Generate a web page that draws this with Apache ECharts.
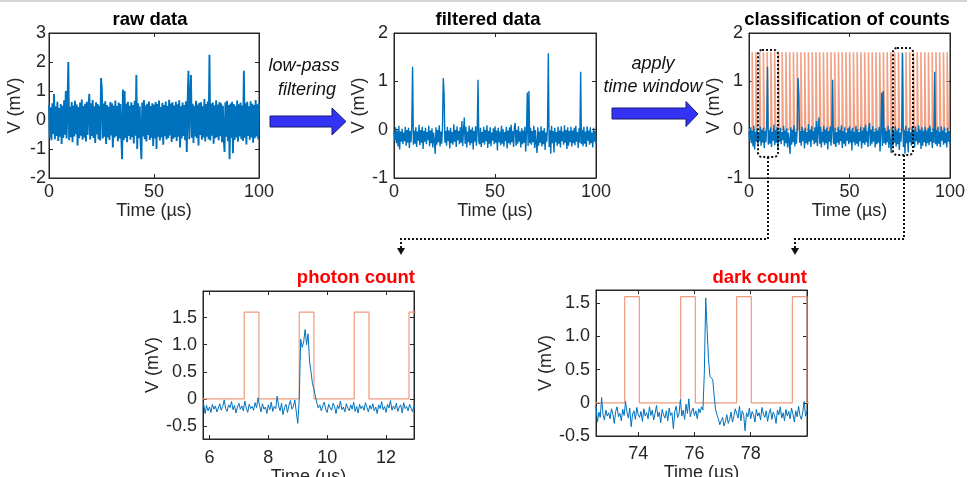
<!DOCTYPE html>
<html><head><meta charset="utf-8">
<script src="https://cdn.jsdelivr.net/npm/echarts@6/dist/echarts.min.js"></script>
<style>html,body{margin:0;padding:0;background:#fff}#c{width:979px;height:477px}</style>
</head><body><div id="c"></div>
<script>
// ---------- data ----------
const rawStart = 0, rawStep = 0.4;
const rawValues = [
0.52,-0.61,0.44,-0.70,0.58,-0.48,0.90,-0.66,0.47,-0.55,
0.63,-0.72,0.41,-0.58,0.55,-0.83,0.49,-0.62,0.68,-0.51,
1.00,-0.64,0.57,2.00,-0.70,0.46,-0.59,0.62,-0.77,0.50,
-0.57,0.66,-0.49,0.53,-0.88,0.45,-0.63,0.60,-0.54,0.71,
-0.68,0.48,-0.60,0.56,-0.74,0.63,-0.52,0.44,0.90,-0.67,
0.58,-0.55,0.69,-0.62,0.47,-0.79,0.61,-0.50,0.55,-0.66,
0.49,-0.71,1.45,1.00,-0.64,0.57,-0.58,0.65,-0.83,0.52,
-0.60,0.46,-0.69,0.62,-0.53,0.58,-0.95,0.50,-0.61,0.67,
-0.56,0.48,-0.73,0.60,-0.64,0.55,-0.50,-1.35,1.05,-0.70,
1.00,-0.62,0.57,-0.77,0.63,-0.55,0.49,-0.68,0.61,-0.59,
0.52,-0.81,0.66,-0.54,1.55,-1.00,0.58,-0.63,0.47,-0.71,
-1.35,0.60,-0.57,0.69,-0.66,0.51,-0.74,0.56,-0.52,0.64,
-0.69,0.48,-0.61,0.58,-0.90,0.53,-0.64,0.62,-1.00,0.55,
-0.58,0.67,-0.71,0.45,-0.60,0.59,-0.85,0.52,-0.56,0.64,
-0.67,0.49,-0.62,0.70,-0.53,0.57,-0.76,0.61,-0.65,0.50,
-0.59,0.63,-0.72,0.54,-0.58,0.68,-0.95,0.47,-0.64,0.60,
-0.55,0.52,-0.70,0.65,-1.10,0.58,1.70,-0.66,0.62,1.55,
-0.61,0.56,-0.79,0.49,-0.57,0.66,-0.63,0.53,-0.88,0.59,
-0.52,0.61,-0.68,0.47,-0.60,0.72,-0.74,0.55,-0.58,0.64,
-0.66,2.25,-0.71,0.57,-0.54,0.60,-0.82,0.51,-0.63,0.68,
-0.59,0.53,-0.70,0.62,-0.56,0.58,-0.77,0.49,-0.65,-1.10,
0.61,-0.58,0.66,-0.73,0.52,-1.35,0.57,-0.62,0.63,-1.15,
0.55,-0.69,0.48,-0.60,0.67,-0.75,0.54,-0.57,0.60,-0.66,
0.50,-0.72,1.70,-0.61,0.58,-0.84,0.63,-0.55,0.47,-0.68,
0.65,-0.60,0.56,-0.78,0.52,-0.63,0.69,-0.57,0.54,-0.66,
0.58];

const filtStart = 0, filtStep = 0.4;
const filteredValues = [
-0.05,-0.22,0.05,-0.28,-0.02,-0.35,0.08,-0.41,-0.04,-0.25,
0.02,-0.30,-0.06,-0.24,0.06,-0.33,-0.01,-0.27,0.04,-0.38,
-0.03,-0.26,0.07,1.30,-0.31,-0.02,-0.29,0.05,-0.36,-0.04,
-0.23,0.10,-0.32,-0.01,-0.27,0.06,-0.40,-0.03,-0.25,0.04,
-0.30,-0.05,-0.22,0.08,-0.34,-0.02,-0.28,0.03,-0.37,-0.06,
-0.24,-0.50,0.05,-0.31,-0.01,-0.26,0.09,-0.35,-0.04,-0.29,
0.03,1.07,0.73,-0.27,-0.03,-0.33,0.06,-0.24,-0.02,-0.39,
0.04,-0.28,-0.05,-0.31,0.11,-0.25,-0.01,-0.36,0.07,-0.22,
-0.03,-0.30,0.05,-0.27,0.18,-0.34,-0.02,0.25,-0.29,0.06,
-0.37,-0.04,-0.26,0.08,-0.32,0.00,-0.28,0.05,-0.41,-0.03,
-0.25,0.07,-0.33,-0.02,1.03,-0.25,-0.30,0.04,-0.36,-0.05,
-0.27,0.06,-0.31,-0.01,-0.24,0.09,-0.38,-0.03,-0.29,0.05,
-0.34,-0.06,-0.23,0.03,-0.30,0.07,-0.27,-0.02,-0.43,0.04,
-0.26,-0.04,-0.32,0.08,-0.29,0.01,-0.35,-0.05,-0.24,0.06,
-0.39,-0.02,-0.28,0.05,-0.31,0.10,-0.26,-0.03,-0.36,0.04,
0.14,-0.33,-0.01,-0.29,0.07,-0.25,-0.04,-0.37,0.03,-0.30,
-0.02,-0.27,0.06,-0.45,-0.05,0.77,-0.34,0.80,-0.28,0.04,
-0.31,-0.03,-0.26,0.08,-0.38,-0.01,-0.29,-0.48,0.05,-0.33,
-0.04,-0.27,0.07,-0.35,-0.02,-0.30,0.03,-0.42,-0.06,-0.25,
0.05,1.58,-0.36,-0.01,-0.50,0.08,-0.28,-0.03,-0.47,0.04,
-0.26,-0.05,-0.33,0.06,-0.29,-0.02,-0.37,0.07,-0.24,-0.04,
-0.31,0.09,-0.27,-0.01,-0.40,0.05,-0.33,-0.03,-0.26,0.06,
-0.35,-0.02,-0.28,0.04,-0.32,0.08,-0.25,-0.05,-0.38,0.03,
-0.27,1.20,-0.30,-0.01,-0.34,0.06,-0.29,-0.04,-0.36,0.07,
-0.23,-0.02,-0.31,0.05,-0.28,-0.06,-0.37,0.04,-0.25,-0.03,
-0.30];

const windowStarts = [1.58,3.45,5.31,7.18,9.04,10.91,12.78,14.64,16.51,18.37,
20.24,22.11,23.97,25.84,27.70,29.57,31.44,33.30,35.17,37.03,38.90,40.77,42.63,
44.50,46.36,48.23,50.10,51.96,53.83,55.69,57.56,59.43,61.29,63.16,65.02,66.89,
68.76,70.62,72.49,74.35,76.22,78.09,79.95,81.82,83.68,85.55,87.42,89.28,91.15,
93.01,94.88,96.75,98.61];
const windowWidth = 0.5, windowHeight = 1.6;

const photonStart = 5.8, photonStep = 0.05;
const photonValues = [
-0.08,-0.27,-0.12,-0.22,-0.15,-0.25,-0.10,-0.19,-0.13,-0.24,
-0.17,-0.09,-0.21,-0.14,-0.02,-0.18,-0.23,-0.11,-0.16,-0.05,
-0.20,-0.12,-0.26,-0.15,-0.08,-0.19,-0.13,-0.22,-0.04,-0.17,
-0.25,-0.10,-0.18,-0.14,-0.21,-0.07,-0.16,0.02,-0.12,-0.24,
-0.09,-0.19,-0.15,-0.27,-0.11,-0.20,-0.06,-0.23,-0.14,-0.18,
0.05,-0.13,-0.22,-0.08,-0.29,-0.16,-0.10,-0.25,-0.12,-0.03,
-0.19,-0.14,-0.02,-0.24,-0.45,0.00,1.10,0.95,1.05,1.28,
1.00,1.20,0.70,0.50,0.28,0.18,0.05,-0.08,-0.17,-0.11,
-0.22,-0.13,-0.06,-0.19,-0.25,-0.10,-0.16,-0.21,-0.08,-0.14,
-0.27,-0.12,-0.18,-0.04,-0.20,-0.15,-0.24,-0.09,-0.17,-0.22,
-0.11,-0.19,-0.06,-0.23,-0.14,-0.26,-0.10,-0.18,-0.13,-0.21,
-0.07,-0.16,-0.24,-0.12,-0.19,-0.09,-0.22,-0.15,-0.27,-0.11,
-0.18,-0.05,-0.20,-0.14,-0.25,-0.10,-0.17,-0.03,-0.21,-0.13,
-0.19,-0.08,-0.23,-0.15,-0.11,-0.26,-0.07,-0.18,-0.14,-0.22,
-0.10,-0.17,-0.24,-0.12,-0.19];
const photonWindowStarts = [7.18, 9.05, 10.92, 12.78];
const photonWindowWidth = 0.5;

const darkStart = 72.5, darkStep = 0.05;
const darkValues = [
-0.05,-0.29,-0.14,-0.22,0.08,-0.18,-0.26,-0.11,-0.20,-0.15,
-0.24,-0.09,-0.17,-0.31,-0.13,-0.06,-0.21,-0.16,-0.27,-0.10,
-0.19,0.02,-0.14,-0.23,-0.08,-0.36,-0.17,-0.12,-0.25,-0.07,
-0.18,-0.22,-0.13,-0.28,-0.09,-0.20,-0.15,-0.24,-0.06,-0.19,
-0.11,-0.26,-0.16,-0.04,-0.21,-0.14,-0.30,-0.10,-0.18,-0.23,
-0.12,-0.27,-0.08,-0.19,-0.15,-0.39,-0.13,-0.05,-0.22,-0.17,
0.05,-0.20,-0.11,-0.25,-0.02,-0.16,0.06,-0.21,-0.13,-0.08,
-0.19,-0.12,-0.24,-0.09,-0.15,-0.06,-0.11,0.45,1.58,1.10,
0.65,0.40,0.42,0.35,0.10,-0.10,-0.18,-0.24,-0.33,-0.27,
-0.22,-0.35,-0.28,-0.18,-0.31,-0.25,-0.14,-0.29,-0.20,-0.09,
-0.16,-0.23,-0.05,-0.27,-0.12,-0.19,-0.42,-0.15,-0.21,-0.08,
-0.24,-0.13,-0.18,-0.29,-0.10,-0.20,-0.15,-0.26,-0.07,-0.17,
-0.22,-0.12,-0.28,-0.16,-0.09,-0.25,-0.14,-0.19,-0.31,-0.11,
-0.18,-0.06,-0.23,-0.15,-0.27,-0.10,-0.20,-0.13,-0.24,-0.08,
-0.17,-0.29,-0.12,-0.21,-0.05,-0.19,-0.25,-0.14,0.02,-0.20,
-0.12];
const darkWindowStarts = [73.52, 75.51, 77.50, 79.48];
const darkWindowWidth = 0.52;

const topXTicks = [0, 50, 100];
const rawYTicks = [-2, -1, 0, 1, 2, 3];
const filtYTicks = [-1, 0, 1, 2];
const zoomYTicks = [-0.5, 0, 0.5, 1, 1.5];
const zoomYLabels = ['-0.5', '0', '0.5', '1.0', '1.5'];
const photonXTicks = [6, 8, 10, 12];
const darkXTicks = [74, 76, 78];

// ---------- helpers ----------
const FONT = '"Liberation Sans", Arial, Helvetica, sans-serif';
const AX = '#262626';
const BLUE = '#0072BD';
const ORANGE = '#EE9B7D';

function toPairs(start, step, vals) {
  return vals.map((v, i) => [Math.round((start + i * step) * 1000) / 1000, v]);
}
function windowLine(starts, w, h, x0, x1) {
  const pts = [[x0, 0]];
  starts.forEach(s => { pts.push([s, 0], [s, h], [s + w, h], [s + w, 0]); });
  pts.push([x1, 0]);
  return pts;
}

const grids = [], xAxes = [], yAxes = [];
function panel(rect, xr, xt, yr, yt, yFmt, o) {
  const g = grids.length;
  grids.push(Object.assign({show: true, borderColor: AX, borderWidth: 1, backgroundColor: 'transparent',
    containLabel: false, outerBoundsMode: 'none'}, rect));
  const lbl = {fontSize: 18, color: AX, fontFamily: FONT};
  const baseX = {type: 'value', gridIndex: g, min: xr[0], max: xr[1], splitLine: {show: false},
    axisLine: {show: true, onZero: false, lineStyle: {color: AX, width: 1}},
    axisTick: {show: true, inside: true, length: 4, customValues: xt, lineStyle: {color: AX}}};
  xAxes.push(Object.assign({}, baseX, {position: 'bottom',
    axisLabel: Object.assign({customValues: xt, margin: o.xMargin}, lbl),
    name: 'Time (µs)', nameLocation: 'middle', nameGap: o.xNameGap, nameTextStyle: lbl}));
  xAxes.push(Object.assign({}, baseX, {position: 'top', axisLabel: {show: false}}));
  const baseY = {type: 'value', gridIndex: g, min: yr[0], max: yr[1], splitLine: {show: false},
    axisLine: {show: true, onZero: false, lineStyle: {color: AX, width: 1}},
    axisTick: {show: true, inside: true, length: 4, customValues: yt, lineStyle: {color: AX}}};
  yAxes.push(Object.assign({}, baseY, {position: 'left',
    axisLabel: Object.assign({customValues: yt, margin: o.yMargin, formatter: yFmt}, lbl),
    name: 'V (mV)', nameLocation: 'middle', nameGap: o.yNameGap, nameTextStyle: lbl}));
  yAxes.push(Object.assign({}, baseY, {position: 'right', axisLabel: {show: false}}));
  return 2 * g;
}
const plainFmt = v => String(v);
const zoomFmt = v => zoomYLabels[zoomYTicks.indexOf(v)] !== undefined ? zoomYLabels[zoomYTicks.indexOf(v)] : String(v);

const pRaw = panel({left: 49, top: 33, width: 210, height: 145}, [0, 100], topXTicks, [-2, 3], rawYTicks, plainFmt,
  {xMargin: 5, xNameGap: 22, yMargin: 3, yNameGap: 25});
const pFilt = panel({left: 394, top: 33, width: 202, height: 145}, [0, 100], topXTicks, [-1, 2], filtYTicks, plainFmt,
  {xMargin: 5, xNameGap: 22, yMargin: 6, yNameGap: 20});
const pCls = panel({left: 749, top: 33, width: 201, height: 145}, [0, 100], topXTicks, [-1, 2], filtYTicks, plainFmt,
  {xMargin: 5, xNameGap: 22, yMargin: 6, yNameGap: 20});
const pPh = panel({left: 203, top: 291, width: 211, height: 148}, [5.78, 12.95], photonXTicks, [-0.74, 1.99], zoomYTicks, zoomFmt,
  {xMargin: 10, xNameGap: 23, yMargin: 6, yNameGap: 41});
const pDk = panel({left: 596, top: 290, width: 211, height: 146}, [72.5, 80], darkXTicks, [-0.5, 1.7], zoomYTicks, zoomFmt,
  {xMargin: 9, xNameGap: 26, yMargin: 6, yNameGap: 40});

function lineSeries(ax, data, color, w, z) {
  return {type: 'line', xAxisIndex: ax, yAxisIndex: ax, data: data, symbol: 'none', showSymbol: false,
    silent: true, animation: false, clip: true, z: z,
    lineStyle: {color: color, width: w}};
}
const filteredPairs = toPairs(filtStart, filtStep, filteredValues);
const series = [
  lineSeries(pRaw, toPairs(rawStart, rawStep, rawValues), BLUE, 1.9, 2),
  lineSeries(pFilt, filteredPairs, BLUE, 1.4, 2),
  lineSeries(pCls, windowLine(windowStarts, windowWidth, windowHeight, 0, 100), '#F2A184', 1.6, 1),
  lineSeries(pCls, filteredPairs, BLUE, 1.4, 2),
  lineSeries(pPh, windowLine(photonWindowStarts, photonWindowWidth, windowHeight, 5.5, 13.5), ORANGE, 1.2, 1),
  lineSeries(pPh, toPairs(photonStart, photonStep, photonValues), BLUE, 1, 2),
  lineSeries(pDk, windowLine(darkWindowStarts, darkWindowWidth, windowHeight, 72, 80.5), ORANGE, 1.2, 1),
  lineSeries(pDk, toPairs(darkStart, darkStep, darkValues), BLUE, 1, 2)
];

function txt(x, y, s, opt) {
  return {type: 'text', x: x, y: y, z: 100, silent: true,
    style: Object.assign({text: s, fontSize: 18, fontFamily: FONT, fill: '#111',
      align: 'center', verticalAlign: 'middle', textAlign: 'center', textVerticalAlign: 'middle'}, opt || {})};
}
const dotted = {fill: 'none', stroke: '#111', lineWidth: 2, lineDash: [2, 2]};
const graphic = [
  {type: 'line', z: 100, silent: true, shape: {x1: 0, y1: 1, x2: 967, y2: 1}, style: {stroke: '#d4d4d4', lineWidth: 2}},
  txt(150, 20, 'raw data', {fontWeight: 'bold', fontSize: 18.5, fill: '#000'}),
  txt(488, 20, 'filtered data', {fontWeight: 'bold', fontSize: 18.5, fill: '#000'}),
  txt(847, 20, 'classification of counts', {fontWeight: 'bold', fontSize: 18.5, fill: '#000'}),
  txt(415, 278, 'photon count', {fontWeight: 'bold', fontSize: 18.5, fill: '#FF0000', align: 'right', textAlign: 'right'}),
  txt(807, 278, 'dark count', {fontWeight: 'bold', fontSize: 18.5, fill: '#FF0000', align: 'right', textAlign: 'right'}),
  txt(304, 66, 'low-pass', {fontStyle: 'italic'}),
  txt(307, 90, 'filtering', {fontStyle: 'italic'}),
  txt(653, 64, 'apply', {fontStyle: 'italic'}),
  txt(653, 87, 'time window', {fontStyle: 'italic'}),
  {type: 'polygon', z: 100, silent: true,
    shape: {points: [[270, 116], [332, 116], [332, 108], [346, 121.5], [332, 135], [332, 127], [270, 127]]},
    style: {fill: '#3333F5', stroke: '#1b1b70', lineWidth: 1}},
  {type: 'polygon', z: 100, silent: true,
    shape: {points: [[612, 108], [686, 108], [686, 101.5], [698, 114], [686, 126.5], [686, 119], [612, 119]]},
    style: {fill: '#3333F5', stroke: '#1b1b70', lineWidth: 1}},
  {type: 'rect', z: 100, silent: true, shape: {x: 758, y: 50, width: 20, height: 107, r: 4}, style: dotted},
  {type: 'rect', z: 100, silent: true, shape: {x: 893, y: 48, width: 20, height: 107, r: 4}, style: dotted},
  {type: 'polyline', z: 100, silent: true, shape: {points: [[768, 157], [768, 239], [401, 239], [401, 249]]}, style: dotted},
  {type: 'polyline', z: 100, silent: true, shape: {points: [[904, 155], [904, 239], [795, 239], [795, 249]]}, style: dotted},
  {type: 'polygon', z: 100, silent: true, shape: {points: [[397, 248], [405, 248], [401, 255]]}, style: {fill: '#111'}},
  {type: 'polygon', z: 100, silent: true, shape: {points: [[791, 248], [799, 248], [795, 255]]}, style: {fill: '#111'}}
];

const chart = echarts.init(document.getElementById('c'), null, {renderer: 'canvas'});
chart.setOption({
  animation: false,
  backgroundColor: '#fff',
  grid: grids,
  xAxis: xAxes,
  yAxis: yAxes,
  series: series,
  graphic: graphic
});
</script>
</body></html>
